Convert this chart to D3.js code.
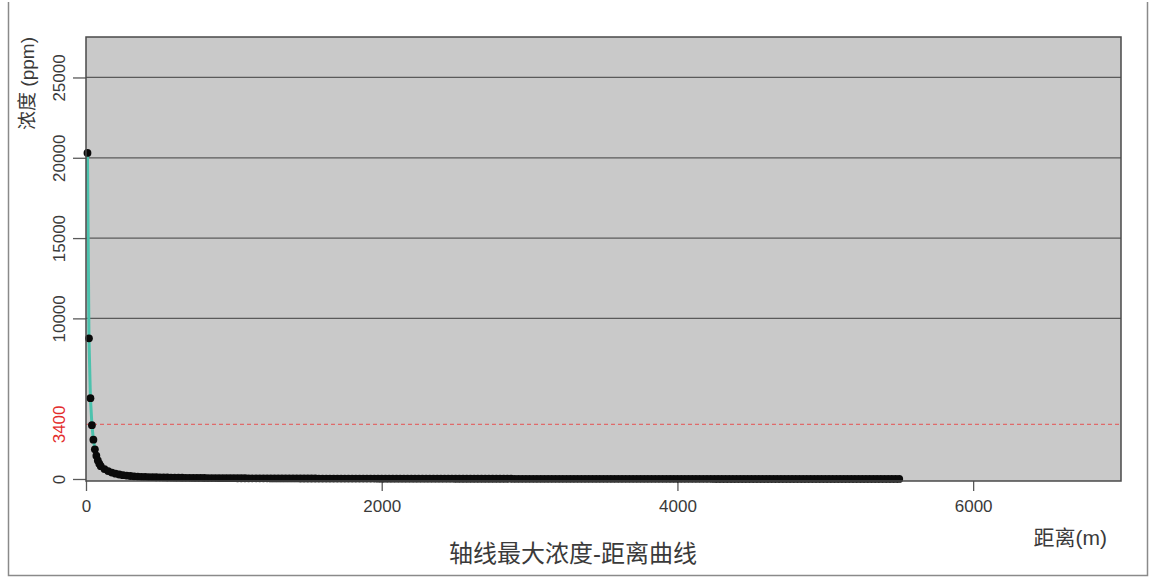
<!DOCTYPE html>
<html>
<head>
<meta charset="utf-8">
<script src="https://cdn.jsdelivr.net/npm/d3@7/dist/d3.min.js"></script>
<style>
  html, body { margin: 0; padding: 0; background: #fff; }
  svg { display: block; }
  text { font-family: "Liberation Sans", Arial, "Noto Sans CJK SC", sans-serif; }
</style>
</head>
<body>
<svg id="chart" width="1149" height="577"></svg>
<script>
// ---- data ----
const title = "轴线最大浓度-距离曲线";
const xLabel = "距离(m)";
const yLabel = "浓度 (ppm)";
const xTicks = [0, 2000, 4000, 6000];
const yTicks = [0, 10000, 15000, 20000, 25000];
const gridValues = [10000, 15000, 20000, 25000];
const thresholdValue = 3400;
const thresholdLabel = "3400";

const distances = [
  10,20,30,40,50,60,70,80,90,100,125,150,175,200,225,250,275,300,325,350,375,400,
  425,450,475,500,525,550,575,600,625,650,675,700,725,750,775,800,825,850,875,900,
  925,950,975,1000,1025,1050,1075,1100,1125,1150,1175,1200,1225,1250,1275,1300,1325,1350,1375,1400,
  1425,1450,1475,1500,1525,1550,1575,1600,1625,1650,1675,1700,1725,1750,1775,1800,1825,1850,1875,1900,
  1925,1950,1975,2000,2025,2050,2075,2100,2125,2150,2175,2200,2225,2250,2275,2300,2325,2350,2375,2400,
  2425,2450,2475,2500,2525,2550,2575,2600,2625,2650,2675,2700,2725,2750,2775,2800,2825,2850,2875,2900,
  2925,2950,2975,3000,3025,3050,3075,3100,3125,3150,3175,3200,3225,3250,3275,3300,3325,3350,3375,3400,
  3425,3450,3475,3500,3525,3550,3575,3600,3625,3650,3675,3700,3725,3750,3775,3800,3825,3850,3875,3900,
  3925,3950,3975,4000,4025,4050,4075,4100,4125,4150,4175,4200,4225,4250,4275,4300,4325,4350,4375,4400,
  4425,4450,4475,4500,4525,4550,4575,4600,4625,4650,4675,4700,4725,4750,4775,4800,4825,4850,4875,4900,
  4925,4950,4975,5000,5025,5050,5075,5100,5125,5150,5175,5200,5225,5250,5275,5300,5325,5350,5375,5400,
  5425,5450,5475,5500
];
const concentrations = [
  20300,8760,5030,3350,2450,1850,1450,1150,950,800,620,490,400,330,280,240,210,185,165,148,135,127,
  122,115,108,102,97,92,88,84,80,77,74,71,68,66,64,62,60,58,56,54,
  53,51,50,48,47,46,45,44,43,42,41,40,39,38,37,36,35,35,34,33,
  33,32,31,31,30,30,29,29,28,28,27,27,26,26,25,25,25,24,24,23,
  23,23,22,22,22,21,21,21,20,20,20,19,19,19,19,18,18,18,18,17,
  17,17,17,16,16,16,16,16,15,15,15,15,15,14,14,14,14,14,14,13,
  13,13,13,13,13,13,12,12,12,12,12,12,12,11,11,11,11,11,11,11,
  11,10,10,10,10,10,10,10,10,10,9,9,9,9,9,9,9,9,9,9,
  9,8,8,8,8,8,8,8,8,8,8,8,8,7,7,7,7,7,7,7,
  7,7,7,7,7,7,7,7,6,6,6,6,6,6,6,6,6,6,6,6,
  6,6,6,6,6,6,6,5,5,5,5,5,5,5,5,5,5,5,5,5,
  5,5,5,5
];

// ---- layout ----
const svg = d3.select("#chart");
const plot = { left: 86, right: 1121, top: 37, bottom: 481 };

const x = d3.scaleLinear().domain([0, 7000]).range([plot.left, plot.right]);
const y = d3.scaleLinear().domain([-125, 27520]).range([plot.bottom, plot.top]);

const points = distances.map((d, i) => ({ d, c: concentrations[i] }));

// outer frame (left, bottom, right)
svg.append("path")
  .attr("d", "M8.5,2 L8.5,575.5 L1147.5,575.5 L1147.5,2")
  .attr("fill", "none").attr("stroke", "#8a8a8a").attr("stroke-width", 1.5);

// plot background
svg.append("rect")
  .attr("x", plot.left).attr("y", plot.top)
  .attr("width", plot.right - plot.left).attr("height", plot.bottom - plot.top)
  .attr("fill", "#c9c9c9");

// grid lines
svg.append("g").selectAll("line").data(gridValues).join("line")
  .attr("x1", plot.left).attr("x2", plot.right)
  .attr("y1", d => y(d)).attr("y2", d => y(d))
  .attr("stroke", "#5a5a5a").attr("stroke-width", 1.3);

// threshold line
svg.append("line")
  .attr("x1", plot.left).attr("x2", plot.right)
  .attr("y1", y(thresholdValue)).attr("y2", y(thresholdValue))
  .attr("stroke", "#e06a6a").attr("stroke-width", 1.3)
  .attr("stroke-dasharray", "4,3");

// y axis (ticks + labels)
const yAxis = d3.axisLeft(y).tickValues(yTicks).tickSize(13).tickPadding(10)
  .tickFormat(d3.format("d"));
const gy = svg.append("g").attr("transform", `translate(${plot.left},0)`).call(yAxis);
gy.select(".domain").remove();
gy.selectAll(".tick line").attr("stroke", "#5a5a5a").attr("stroke-width", 1.3);
gy.selectAll(".tick text")
  .attr("x", null).attr("dy", null)
  .attr("transform", "translate(-27,0) rotate(-90)")
  .attr("text-anchor", "middle")
  .attr("dominant-baseline", "central")
  .attr("fill", "#3a3a3a")
  .style("font-size", "17px");

// threshold label
svg.append("text")
  .attr("transform", `translate(${plot.left - 27},${y(thresholdValue)}) rotate(-90)`)
  .attr("text-anchor", "middle").attr("dominant-baseline", "central")
  .attr("fill", "#e32b2b").style("font-size", "17px")
  .text(thresholdLabel);

// x axis (ticks + labels)
const xAxis = d3.axisBottom(x).tickValues(xTicks).tickSize(10).tickPadding(9)
  .tickFormat(d3.format("d"));
const gx = svg.append("g").attr("transform", `translate(0,${plot.bottom})`).call(xAxis);
gx.select(".domain").remove();
gx.selectAll(".tick line").attr("stroke", "#5a5a5a").attr("stroke-width", 1.3);
gx.selectAll(".tick text").attr("fill", "#3a3a3a").style("font-size", "17px");

// series line
const line = d3.line().x(p => x(p.d)).y(p => y(p.c));
svg.append("path").datum(points)
  .attr("d", line)
  .attr("fill", "none").attr("stroke", "#4cc2ad").attr("stroke-width", 3);

// points
svg.append("g").selectAll("circle").data(points).join("circle")
  .attr("cx", p => x(p.d)).attr("cy", p => y(p.c))
  .attr("r", 3.9).attr("fill", "#0a0a0a");

// plot border
svg.append("rect")
  .attr("x", plot.left).attr("y", plot.top)
  .attr("width", plot.right - plot.left).attr("height", plot.bottom - plot.top)
  .attr("fill", "none").attr("stroke", "#4a4a4a").attr("stroke-width", 1.5);

// axis titles
svg.append("text")
  .attr("transform", `translate(27,${plot.top}) rotate(-90)`)
  .attr("text-anchor", "end").attr("dominant-baseline", "central")
  .attr("fill", "#3a3a3a").style("font-size", "19px")
  .text(yLabel);

svg.append("text")
  .attr("x", 1107).attr("y", 537)
  .attr("text-anchor", "end").attr("dominant-baseline", "central")
  .attr("fill", "#3a3a3a").style("font-size", "21px")
  .text(xLabel);

svg.append("text")
  .attr("x", 573).attr("y", 553)
  .attr("text-anchor", "middle").attr("dominant-baseline", "central")
  .attr("fill", "#3a3a3a").style("font-size", "24px")
  .text(title);
</script>
</body>
</html>
